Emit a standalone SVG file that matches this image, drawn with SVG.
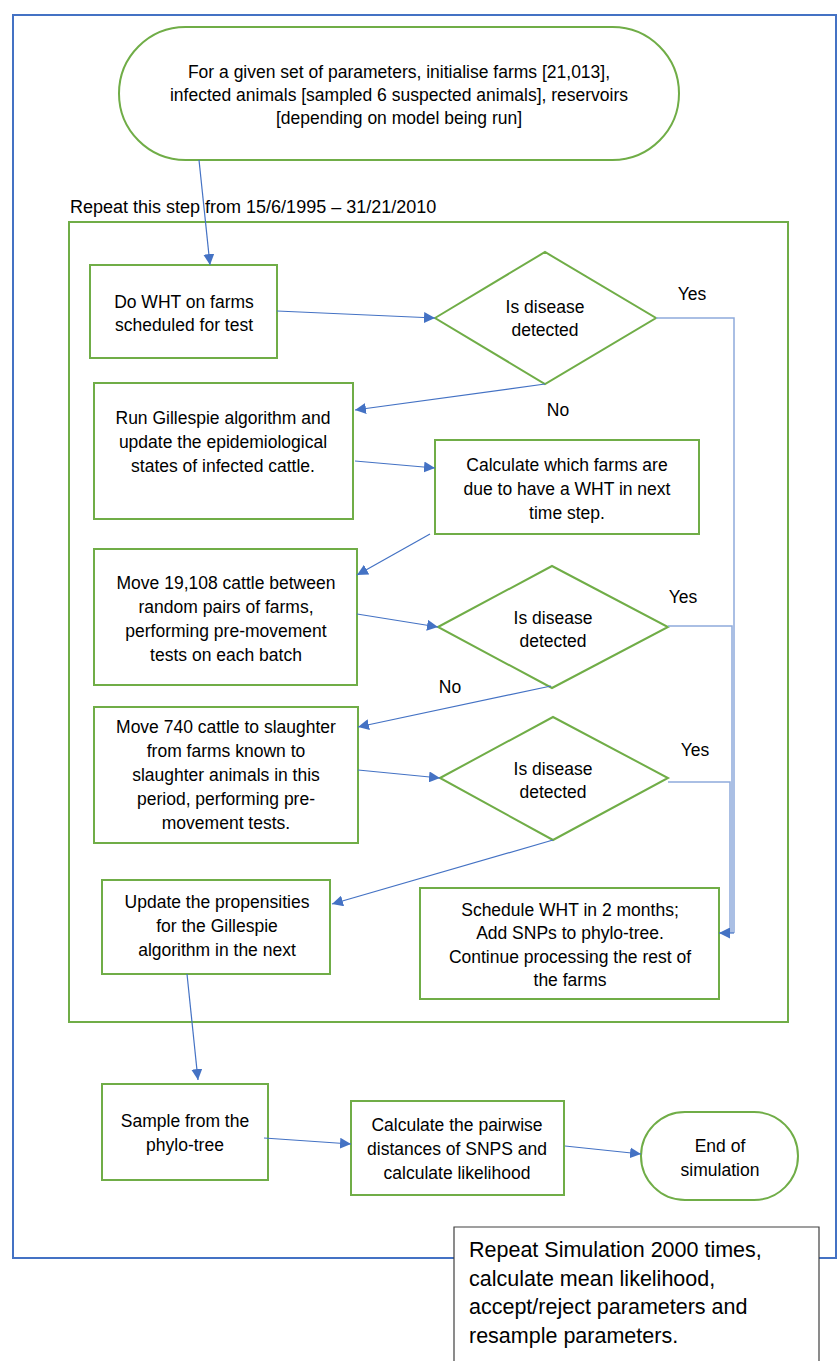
<svg xmlns="http://www.w3.org/2000/svg" width="839" height="1361" viewBox="0 0 839 1361">
<style>
text{font-family:"Liberation Sans",Arial,sans-serif;font-size:17.5px;fill:#000;text-anchor:middle;dominant-baseline:central}
.g{fill:#fff;stroke:#70AD47;stroke-width:2}
.c{fill:none;stroke:#4472C4;stroke-width:1.2}
.y{fill:none;stroke:#8FAADC;stroke-width:1.5}
.big{font-size:21.5px;text-anchor:start}
</style>
<defs>
<marker id="ah" viewBox="0 0 10 10" refX="10" refY="5" markerWidth="11" markerHeight="11" markerUnits="userSpaceOnUse" orient="auto">
<path d="M0,0 L10,5 L0,10 z" fill="#4472C4"/>
</marker>
</defs>
<rect x="0" y="0" width="839" height="1361" fill="#fff"/>
<rect id="outer" x="13" y="15" width="823" height="1243" fill="none" stroke="#4472C4" stroke-width="2"/>
<text x="70" y="207" style="text-anchor:start;font-size:18px">Repeat this step from 15/6/1995 – 31/21/2010</text>
<rect id="loop" x="69" y="222" width="719" height="800" fill="none" stroke="#70AD47" stroke-width="2"/>

<g id="start">
<rect class="g" x="119" y="27" width="560" height="133" rx="66.5"/>
<text x="399" y="72">For a given set of parameters, initialise farms [21,013],</text>
<text x="399" y="95">infected animals [sampled 6 suspected animals], reservoirs</text>
<text x="399" y="118">[depending on model being run]</text>
</g>
<g id="wht">
<rect class="g" x="90" y="265" width="187" height="93"/>
<text x="184" y="302">Do WHT on farms</text>
<text x="184" y="325">scheduled for test</text>
</g>
<g id="d1">
<polygon class="g" points="435,318 545,252 656,318 545,384"/>
<text x="545" y="307">Is disease</text>
<text x="545" y="330">detected</text>
</g>
<g id="gillespie">
<rect class="g" x="94" y="383" width="259" height="136"/>
<text x="223" y="418">Run Gillespie algorithm and</text>
<text x="223" y="442">update the epidemiological</text>
<text x="223" y="466">states of infected cattle.</text>
</g>
<g id="calc">
<rect class="g" x="435" y="440" width="264" height="94"/>
<text x="567" y="465">Calculate which farms are</text>
<text x="567" y="489">due to have a WHT in next</text>
<text x="567" y="513">time step.</text>
</g>
<g id="move1">
<rect class="g" x="94" y="549" width="263" height="136"/>
<text x="226" y="583">Move 19,108 cattle between</text>
<text x="226" y="607">random pairs of farms,</text>
<text x="226" y="631">performing pre-movement</text>
<text x="226" y="655">tests on each batch</text>
</g>
<g id="d2">
<polygon class="g" points="438,627 552,566 668,627 552,688"/>
<text x="553" y="618">Is disease</text>
<text x="553" y="641">detected</text>
</g>
<g id="move2">
<rect class="g" x="94" y="707" width="264" height="136"/>
<text x="226" y="727">Move 740 cattle to slaughter</text>
<text x="226" y="751">from farms known to</text>
<text x="226" y="775">slaughter animals in this</text>
<text x="226" y="799">period, performing pre-</text>
<text x="226" y="823">movement tests.</text>
</g>
<g id="d3">
<polygon class="g" points="440,778 553,717 668,778 553,840"/>
<text x="553" y="769">Is disease</text>
<text x="553" y="792">detected</text>
</g>
<g id="update">
<rect class="g" x="102" y="880" width="228" height="94"/>
<text x="217" y="902">Update the propensities</text>
<text x="217" y="926">for the Gillespie</text>
<text x="217" y="950">algorithm in the next</text>
</g>
<g id="schedule">
<rect class="g" x="420" y="888" width="299" height="111"/>
<text x="570" y="910">Schedule WHT in 2 months;</text>
<text x="570" y="933">Add SNPs to phylo-tree.</text>
<text x="570" y="957">Continue processing the rest of</text>
<text x="570" y="980">the farms</text>
</g>
<g id="sample">
<rect class="g" x="102" y="1084" width="166" height="96"/>
<text x="185" y="1121">Sample from the</text>
<text x="185" y="1145">phylo-tree</text>
</g>
<g id="pairwise">
<rect class="g" x="351" y="1101" width="213" height="94"/>
<text x="457" y="1125">Calculate the pairwise</text>
<text x="457" y="1149">distances of SNPS and</text>
<text x="457" y="1173">calculate likelihood</text>
</g>
<g id="end">
<rect class="g" x="641" y="1112" width="157" height="88" rx="44"/>
<text x="720" y="1146">End of</text>
<text x="720" y="1170">simulation</text>
</g>
<g id="repeat">
<path d="M454,1365 V1227 H819 V1365" fill="#fff" stroke="#404040" stroke-width="1.2"/>
<text class="big" x="469" y="1250">Repeat Simulation 2000 times,</text>
<text class="big" x="469" y="1279">calculate mean likelihood,</text>
<text class="big" x="469" y="1307">accept/reject parameters and</text>
<text class="big" x="469" y="1336">resample parameters.</text>
</g>

<g id="connectors">
<line class="c" x1="199" y1="160" x2="210" y2="265" marker-end="url(#ah)"/>
<line class="c" x1="277" y1="311" x2="435" y2="318" marker-end="url(#ah)"/>
<line class="c" x1="545" y1="384" x2="355" y2="410" marker-end="url(#ah)"/>
<line class="c" x1="355" y1="461" x2="435" y2="468" marker-end="url(#ah)"/>
<line class="c" x1="430" y1="534" x2="357" y2="575" marker-end="url(#ah)"/>
<line class="c" x1="357" y1="614" x2="438" y2="627" marker-end="url(#ah)"/>
<line class="c" x1="551" y1="686" x2="358" y2="727" marker-end="url(#ah)"/>
<line class="c" x1="358" y1="770" x2="440" y2="778" marker-end="url(#ah)"/>
<line class="c" x1="553" y1="840" x2="332" y2="904" marker-end="url(#ah)"/>
<line class="c" x1="187" y1="974" x2="198" y2="1080" marker-end="url(#ah)"/>
<line class="c" x1="264" y1="1138" x2="351" y2="1144" marker-end="url(#ah)"/>
<line class="c" x1="565" y1="1146" x2="641" y2="1154" marker-end="url(#ah)"/>
<polyline class="y" points="656,318 734,318 734,933"/>
<polyline class="y" points="668,626 732,626 732,933"/>
<polyline class="y" points="668,782 730,782 730,933"/>
<line class="c" x1="734" y1="933" x2="719" y2="933" marker-end="url(#ah)"/>
<text x="692" y="294">Yes</text>
<text x="558" y="410">No</text>
<text x="683" y="597">Yes</text>
<text x="450" y="687">No</text>
<text x="695" y="750">Yes</text>
</g>
</svg>
